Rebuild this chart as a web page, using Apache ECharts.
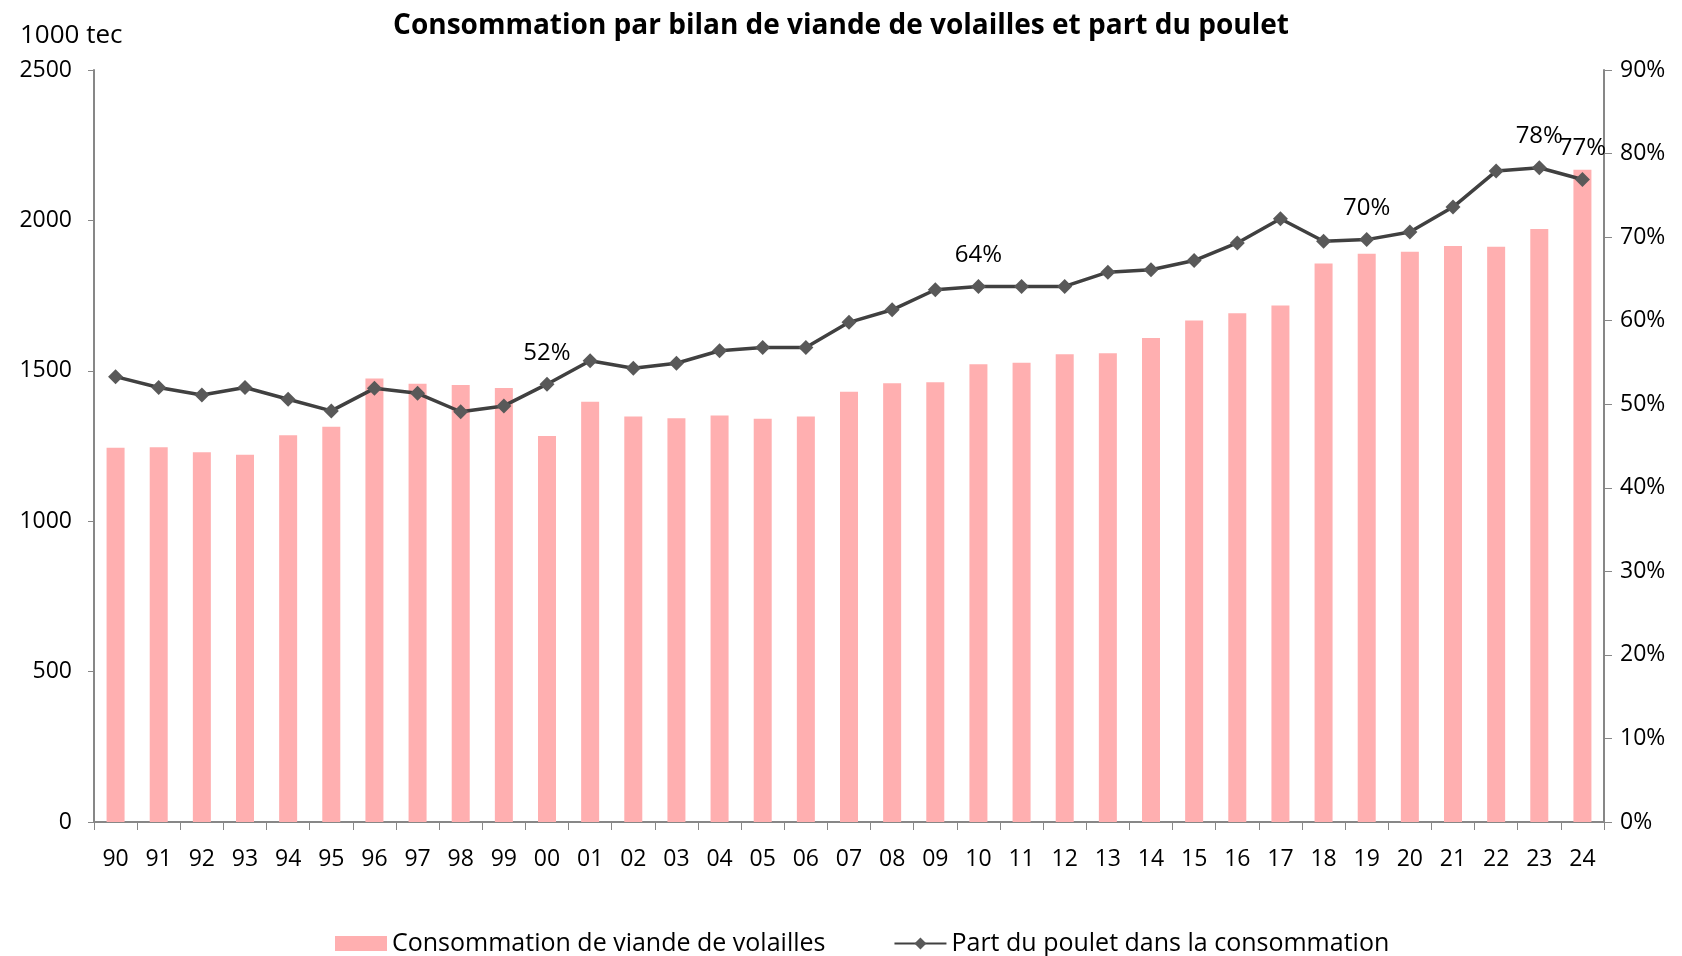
<!DOCTYPE html>
<html>
<head>
<meta charset="utf-8">
<script src="https://cdn.jsdelivr.net/npm/echarts@6/dist/echarts.min.js"></script>
<style>
  html, body { margin: 0; padding: 0; background: #fff; }
  #chart { width: 1682px; height: 956px; }
</style>
</head>
<body>
<div id="chart"></div>
<script>
// années (2 chiffres)
var years = ['90', '91', '92', '93', '94', '95', '96', '97', '98', '99',
  '00', '01', '02', '03', '04', '05', '06', '07', '08', '09',
  '10', '11', '12', '13', '14', '15', '16', '17', '18', '19',
  '20', '21', '22', '23', '24']

// consommation de viande de volailles (1000 tec)
var consommation = [1244, 1246, 1229, 1221, 1286, 1314, 1474, 1457, 1453, 1443,
  1283, 1397, 1348, 1342, 1351, 1341, 1348, 1430, 1459, 1462,
  1522, 1527, 1555, 1558, 1609, 1667, 1691, 1717, 1857, 1889,
  1896, 1915, 1912, 1971, 2168]

// part du poulet dans la consommation (%)
var partPoulet = [53.3, 52.0, 51.1, 52.0, 50.6, 49.2, 51.9, 51.3, 49.1, 49.8,
  52.4, 55.2, 54.3, 54.9, 56.4, 56.8, 56.8, 59.8, 61.3, 63.7,
  64.1, 64.1, 64.1, 65.8, 66.1, 67.2, 69.3, 72.2, 69.5, 69.7,
  70.6, 73.6, 77.9, 78.3, 76.9]

// années avec étiquette
var labelled = ['00', '10', '19', '23', '24']

var font = 'Open Sans'
var chart = echarts.init(document.getElementById('chart'))

var lineData = partPoulet.map(function (v, i) {
  return {
    value: v,
    label: { show: labelled.indexOf(years[i]) >= 0 }
  }
})

var option = {
  animation: false,
  textStyle: { fontFamily: font, color: '#000' },
  title: [
    {
      text: 'Consommation par bilan de viande de volailles et part du poulet',
      left: 'center',
      top: 7,
      textStyle: { fontFamily: font, fontSize: 28, fontWeight: 'bold', color: '#000' }
    },
    {
      text: '1000 tec',
      left: 15,
      top: 18,
      textStyle: { fontFamily: font, fontSize: 26, fontWeight: 'normal', color: '#000' }
    }
  ],
  legend: {
    bottom: -5,
    left: 330,
    itemWidth: 52,
    itemHeight: 15,
    itemGap: 68,
    textStyle: { fontFamily: font, fontSize: 25, color: '#000' },
    data: [
      { name: 'Consommation de viande de volailles', icon: 'rect' },
      { name: 'Part du poulet dans la consommation' }
    ]
  },
  grid: { left: 94, right: 78, top: 70, bottom: 134 },
  xAxis: {
    type: 'category',
    data: years,
    boundaryGap: true,
    axisLine: { lineStyle: { color: '#878787', width: 2 } },
    axisTick: { show: true, length: 8, lineStyle: { color: '#878787' } },
    axisLabel: { fontFamily: font, fontSize: 23, color: '#000', margin: 26, interval: 0 }
  },
  yAxis: [
    {
      type: 'value',
      min: 0,
      max: 2500,
      interval: 500,
      splitLine: { show: false },
      axisLine: { show: true, lineStyle: { color: '#878787', width: 2 } },
      axisTick: { show: true, length: 6, lineStyle: { color: '#878787' } },
      axisLabel: { fontFamily: font, fontSize: 23, color: '#000', margin: 22,
        formatter: function (v) { return String(v) } }
    },
    {
      type: 'value',
      min: 0,
      max: 90,
      interval: 10,
      splitLine: { show: false },
      axisLine: { show: true, lineStyle: { color: '#878787', width: 2 } },
      axisTick: { show: true, length: 8, lineStyle: { color: '#878787' } },
      axisLabel: { fontFamily: font, fontSize: 23, color: '#000', margin: 16, formatter: '{value}%' }
    }
  ],
  series: [
    {
      name: 'Consommation de viande de volailles',
      type: 'bar',
      data: consommation,
      barWidth: 18,
      itemStyle: { color: '#FFAFB0' }
    },
    {
      name: 'Part du poulet dans la consommation',
      type: 'line',
      yAxisIndex: 1,
      data: lineData,
      symbol: 'diamond',
      symbolSize: 15,
      lineStyle: { color: '#404040', width: 3.5 },
      itemStyle: { color: '#595959' },
      label: {
        position: 'top',
        distance: 12,
        fontFamily: font,
        fontSize: 24,
        color: '#000',
        formatter: function (p) { return Math.round(p.value) + '%' }
      }
    }
  ]
}

chart.setOption(option)
</script>
</body>
</html>
